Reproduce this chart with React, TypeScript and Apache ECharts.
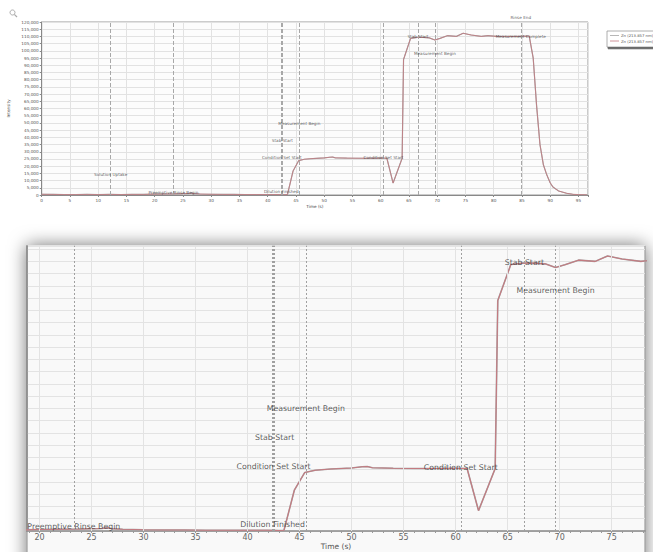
import React, { useEffect, useRef } from 'react';
import * as echarts from 'echarts';

const timeSec = [0, 2, 4, 6, 8, 10, 12, 14, 16, 18, 20, 22, 24, 25, 26, 26.5, 27, 28, 30, 32, 34, 36, 38, 40, 42, 43, 43.5, 44.5, 45.5, 46.5, 48, 50, 51, 51.5, 52, 54, 56, 58, 60, 61.1, 62.2, 63.8, 64.05, 65.3, 66.5, 67.5, 68.6, 69.6, 70.5, 71.8, 73.4, 74.6, 76, 77.8, 79, 80.5, 82, 84, 86.3, 87, 87.6, 88.2, 88.8, 89.4, 90, 90.5, 91.5, 92.9, 94, 95, 96.5];
const intensity = [500, 400, 300, 300, 400, 300, 400, 300, 400, 400, 600, 700, 800, 900, 1000, 1300, 900, 700, 500, 400, 400, 300, 300, 300, 300, 200, 300, 16700, 23900, 24800, 25300, 25700, 26200, 26300, 25800, 25600, 25500, 25500, 25600, 25500, 8300, 25500, 94000, 108700, 109300, 109300, 109000, 107500, 108600, 110500, 110000, 112200, 111000, 110000, 110500, 110000, 110000, 110000, 110200, 95000, 62000, 35000, 21000, 14000, 8500, 5500, 2800, 1200, 500, 300, 100];

const eventNames = ['Solution Uptake', 'Preemptive Rinse Begin', 'Dilution Finished', 'Condition Set Start', 'Stab Start', 'Measurement Begin', 'Condition Set Start', 'Stab Start', 'Measurement Begin', 'Measurement Complete', 'Rinse End'];
const eventTimes = [12.2, 23.3, 42.4, 42.5, 42.6, 45.6, 60.5, 66.6, 69.6, 84.8, 84.8];
const eventLabelY = [13900, 1800, 2500, 26300, 38000, 49800, 26000, 109700, 98000, 110000, 123000];

const bottomXLabels = [20, 25, 30, 35, 40, 45, 50, 55, 60, 65, 70, 75];
const legendNames = ['Zn (213.857 nm)', 'Zn (213.857 nm)'];
const seriesColors = ['#a4a4a4', '#c47a80'];

export default function App() {
  const ref = useRef<HTMLDivElement>(null);
  useEffect(() => {
    const chart = echarts.init(ref.current as HTMLDivElement, null, { renderer: 'svg' });
    const pts = timeSec.map((t, i) => [t, intensity[i]]);
    const evPts = eventTimes.map((t, i) => ({ value: [t, eventLabelY[i]], name: eventNames[i] }));
    const minorTicks = Array.from({ length: 60 }, (_, i) => 19 + i);
    const font = 'DejaVu Sans';

    const eventSeries = (idx: number, fs: number, clip: boolean, dash: any, lineColor: string) => ({
      type: 'scatter',
      xAxisIndex: idx,
      yAxisIndex: idx,
      data: evPts,
      symbolSize: 1,
      itemStyle: { color: 'rgba(0,0,0,0)' },
      clip,
      silent: true,
      z: 5,
      label: {
        show: true,
        position: 'inside',
        formatter: '{b}',
        fontSize: fs,
        fontFamily: font,
        color: '#333',
      },
      markLine: {
        silent: true,
        symbol: 'none',
        label: { show: false },
        lineStyle: { color: lineColor, type: dash, width: 1 },
        data: eventTimes.map((t) => ({ xAxis: t })),
      },
    });

    const option: any = {
      animation: false,
      backgroundColor: '#ffffff',
      textStyle: { fontFamily: font },
      grid: [
        { left: 41.7, top: 22, width: 546.3, height: 173, show: true, backgroundColor: '#fcfcfc', borderColor: '#999', borderWidth: 1, outerBoundsMode: 'none', containLabel: false },
        { left: 27, top: 245.7, width: 618, height: 285.3, show: false, outerBoundsMode: 'none', containLabel: false },
      ],
      xAxis: [
        {
          type: 'value', gridIndex: 0, min: 0, max: 96.7, interval: 5,
          name: 'Time (s)', nameLocation: 'middle', nameGap: 9,
          nameTextStyle: { fontSize: 4.2, color: '#444' },
          axisLine: { lineStyle: { color: '#888' } },
          axisTick: { show: true, length: 2, lineStyle: { color: '#888' } },
          axisLabel: { fontSize: 4.2, color: '#555', margin: 3, formatter: (v: number) => (Math.abs(v % 5) < 1e-6 ? String(v) : '') },
          splitLine: { show: true, lineStyle: { color: '#e2e2e2', width: 1 } },
        },
        {
          type: 'value', gridIndex: 1, min: 18.8, max: 78.2,
          name: 'Time (s)', nameLocation: 'middle', nameGap: 11.5, nameMoveOverlap: false,
          nameTextStyle: { fontSize: 7.5, color: '#555', verticalAlign: 'top' },
          axisLine: { lineStyle: { color: '#888', width: 1.5 } },
          axisTick: { show: true, length: 2, customValues: minorTicks, lineStyle: { color: '#999' } },
          axisLabel: { fontSize: 8, color: '#666', margin: 2.5, customValues: bottomXLabels },
          splitLine: { show: false },
        },
      ],
      yAxis: [
        {
          type: 'value', gridIndex: 0, min: 0, max: 120000, interval: 5000,
          name: 'Intensity', nameLocation: 'middle', nameGap: 24, nameRotate: 90,
          nameTextStyle: { fontSize: 4.2, color: '#444' },
          axisLine: { show: true, lineStyle: { color: '#888' } },
          axisTick: { show: true, length: 2, lineStyle: { color: '#888' } },
          axisLabel: { fontSize: 4.2, color: '#555', margin: 3, formatter: (v: number) => v.toLocaleString('en-US') },
          splitLine: { show: true, lineStyle: { color: '#e2e2e2', width: 1 } },
        },
        {
          type: 'value', gridIndex: 1, min: 0, max: 116400, interval: 5000,
          axisLine: { show: true, lineStyle: { color: '#888', width: 1.5 } },
          axisTick: { show: false },
          axisLabel: { show: false },
          splitLine: { show: true, lineStyle: { color: '#e3e3e3', width: 1 } },
        },
      ],
      graphic: [
        {
          type: 'rect', z: -10,
          shape: { x: 27, y: 245.7, width: 618, height: 340 },
          style: { fill: '#f9f9f9', stroke: '#8a8a8a', lineWidth: 1, shadowBlur: 18, shadowColor: 'rgba(0,0,0,0.55)' },
        },
        { type: 'circle', shape: { cx: 12.5, cy: 12.5, r: 2.5 }, style: { fill: 'none', stroke: '#aaa', lineWidth: 1 } },
        { type: 'line', shape: { x1: 14.3, y1: 14.3, x2: 17, y2: 17 }, style: { stroke: '#aaa', lineWidth: 1.2 } },
        {
          type: 'rect',
          shape: { x: 607, y: 31, width: 60, height: 16 },
          style: { fill: '#fff', stroke: '#999', lineWidth: 0.8, shadowBlur: 0, shadowOffsetX: 1, shadowOffsetY: 1.5, shadowColor: '#333' },
        },
        { type: 'line', shape: { x1: 610, y1: 35.5, x2: 619, y2: 35.5 }, style: { stroke: seriesColors[0], lineWidth: 0.8 } },
        { type: 'line', shape: { x1: 610, y1: 41, x2: 619, y2: 41 }, style: { stroke: seriesColors[1], lineWidth: 0.8 } },
        { type: 'text', x: 621, y: 35.5, style: { text: legendNames[0], fontSize: 3.8, fontFamily: font, fill: '#555', verticalAlign: 'middle' } },
        { type: 'text', x: 621, y: 41, style: { text: legendNames[1], fontSize: 3.8, fontFamily: font, fill: '#555', verticalAlign: 'middle' } },
      ],
      series: [
        {
          type: 'line', name: legendNames[0], xAxisIndex: 0, yAxisIndex: 0, data: pts,
          showSymbol: false, symbol: 'none', lineStyle: { color: seriesColors[0], width: 1.2 }, z: 3,
        },
        {
          type: 'line', name: legendNames[1], xAxisIndex: 0, yAxisIndex: 0, data: pts,
          showSymbol: false, symbol: 'none', lineStyle: { color: seriesColors[1], width: 0.8 }, z: 4,
        },
        eventSeries(0, 4.2, false, 'dashed', '#a8a8a8'),
        {
          type: 'line', name: legendNames[0], xAxisIndex: 1, yAxisIndex: 1, data: pts,
          showSymbol: false, symbol: 'none', lineStyle: { color: seriesColors[0], width: 1.6 }, z: 3,
          markLine: {
            silent: true, symbol: 'none', label: { show: false },
            lineStyle: { color: '#e3e3e3', type: 'solid', width: 1 },
            data: bottomXLabels.map((t) => ({ xAxis: t })),
          },
        },
        {
          type: 'line', name: legendNames[1], xAxisIndex: 1, yAxisIndex: 1, data: pts,
          showSymbol: false, symbol: 'none', lineStyle: { color: seriesColors[1], width: 1.1 }, z: 4,
        },
        eventSeries(1, 7.8, true, [2, 2], '#a0a0a0'),
      ],
    };
    chart.setOption(option);
    return () => chart.dispose();
  }, []);
  return <div ref={ref} style={{ position: 'fixed', left: 0, top: 0, width: 653, height: 552, background: '#fff' }} />;
}
